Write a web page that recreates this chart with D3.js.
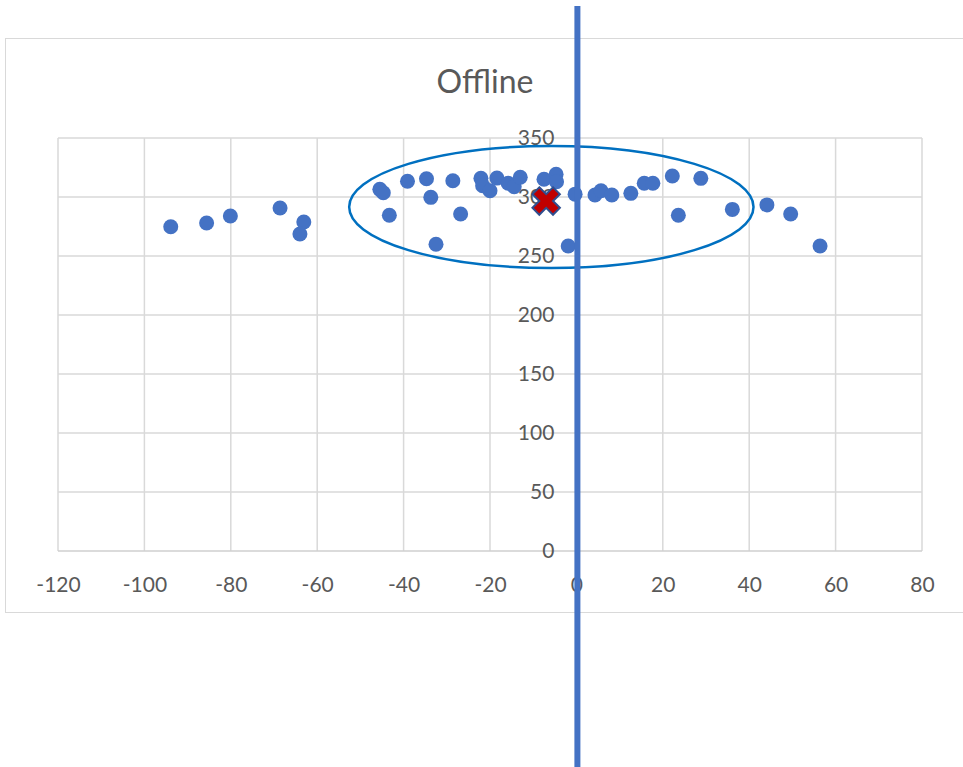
<!DOCTYPE html>
<html>
<head>
<meta charset="utf-8">
<script src="https://cdn.jsdelivr.net/npm/d3@7"></script>
<style>
  body { margin: 0; background: #fff; }
  svg { display: block; font-family: Lato, "Open Sans", sans-serif; }
</style>
</head>
<body>
<div id="chart"></div>
<script>
// Scatter points
const xValues = [-93.9, -85.6, -80.1, -68.6, -63.1, -64.0,
  -45.5, -44.7, -43.3, -39.1, -34.7, -33.7, -32.5, -28.6, -26.8, -22.1, -21.7, -20.0,
  -18.4, -15.8, -14.4, -13.0, -7.5, -4.7, -4.6, -1.9, -0.3, 4.3, 5.7, 8.2, 12.6,
  15.7, 17.7, 22.2, 23.6, 28.8, 36.1, 44.1, 49.6, 56.4];
const yValues = [274.8, 278.0, 283.9, 290.7, 278.8, 268.6,
  306.5, 303.6, 284.5, 313.3, 315.5, 299.7, 259.9, 313.8, 285.6, 315.8, 309.6, 305.3,
  316.0, 311.6, 308.7, 316.7, 315.0, 319.2, 312.9, 258.5, 302.4, 301.7, 305.3, 301.7, 303.1,
  311.6, 311.6, 317.8, 284.5, 315.8, 289.5, 293.3, 285.6, 258.5];

// Centre marker and highlighted cluster
const meanPoint = [-7.0, 296.6];
const clusterEllipse = [-5.8, 291.5, 46.8, 51.7]; // cx, cy, rx, ry in data units

const xTicks = [-120, -100, -80, -60, -40, -20, 0, 20, 40, 60, 80];
const yTicks = [0, 50, 100, 150, 200, 250, 300, 350];
const title = 'Offline';

const width = 963, height = 767;
const plot = { left: 58, right: 922, top: 138, bottom: 551 };

const svg = d3.select('#chart').append('svg')
  .attr('width', width)
  .attr('height', height);

// Chart area border
svg.append('rect')
  .attr('x', 5.5).attr('y', 38.5)
  .attr('width', 970).attr('height', 574)
  .attr('fill', 'none')
  .attr('stroke', '#d9d9d9')
  .attr('stroke-width', 1);

const x = d3.scaleLinear().domain([-120, 80]).range([plot.left, plot.right]);
const y = d3.scaleLinear().domain([0, 350]).range([plot.bottom, plot.top]);

// Gridlines
svg.append('g')
  .selectAll('line.vgrid')
  .data(xTicks)
  .join('line')
  .attr('x1', d => x(d)).attr('x2', d => x(d))
  .attr('y1', y(350)).attr('y2', y(0))
  .attr('stroke', '#d9d9d9')
  .attr('stroke-width', 1.5);

svg.append('g')
  .selectAll('line.hgrid')
  .data(yTicks)
  .join('line')
  .attr('x1', x(-120)).attr('x2', x(80))
  .attr('y1', d => y(d)).attr('y2', d => y(d))
  .attr('stroke', d => d === 0 ? '#cfcfcf' : '#d9d9d9')
  .attr('stroke-width', 1.5);

// Tick labels (plain hyphen for negatives, like the source)
const plain = d => String(d);

const xAxis = svg.append('g')
  .attr('transform', `translate(0, ${plot.bottom})`)
  .call(d3.axisBottom(x).tickValues(xTicks).tickFormat(plain).tickSize(0).tickPadding(0));
xAxis.select('.domain').remove();
xAxis.selectAll('text')
  .attr('y', 41)
  .attr('dy', 0)
  .attr('font-size', 21)
  .attr('font-family', 'Lato, "Open Sans", sans-serif')
  .attr('fill', '#595959');

const yAxis = svg.append('g')
  .attr('transform', `translate(${x(0)}, 0)`)
  .call(d3.axisLeft(y).tickValues(yTicks).tickFormat(plain).tickSize(0).tickPadding(22));
yAxis.select('.domain').remove();
yAxis.selectAll('text')
  .attr('font-size', 21)
  .attr('font-family', 'Lato, "Open Sans", sans-serif')
  .attr('fill', '#595959');

// Title
svg.append('text')
  .attr('x', 485)
  .attr('y', 93)
  .attr('text-anchor', 'middle')
  .attr('font-size', 32)
  .attr('fill', '#595959')
  .text(title);

// Points
svg.append('g')
  .selectAll('circle')
  .data(xValues.map((v, i) => [v, yValues[i]]))
  .join('circle')
  .attr('cx', d => x(d[0]))
  .attr('cy', d => y(d[1]))
  .attr('r', 7.5)
  .attr('fill', '#4472c4');

// Cluster ellipse
const [ecx, ecy, erx, ery] = clusterEllipse;
svg.append('ellipse')
  .attr('cx', x(ecx))
  .attr('cy', y(ecy))
  .attr('rx', x(ecx + erx) - x(ecx))
  .attr('ry', y(ecy) - y(ecy + ery))
  .attr('fill', 'none')
  .attr('stroke', '#0070c0')
  .attr('stroke-width', 2.5);

// Mean marker (X)
svg.append('path')
  .attr('d', d3.symbol().type(d3.symbolCross).size(470)())
  .attr('transform', `translate(${x(meanPoint[0])}, ${y(meanPoint[1])}) rotate(45)`)
  .attr('fill', '#c00000')
  .attr('stroke', '#2f4f8f')
  .attr('stroke-width', 2);

// Vertical marker line at x = 0
svg.append('line')
  .attr('x1', x(0) + 1).attr('x2', x(0) + 1)
  .attr('y1', 6).attr('y2', height)
  .attr('stroke', '#4472c4')
  .attr('stroke-width', 6);
</script>
</body>
</html>
